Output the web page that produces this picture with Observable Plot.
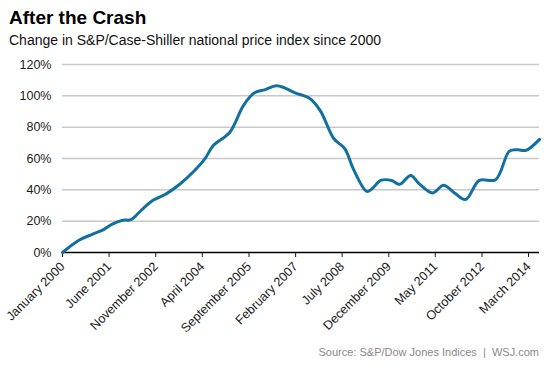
<!DOCTYPE html>
<html>
<head>
<meta charset="utf-8">
<script src="https://cdn.jsdelivr.net/npm/d3@7"></script>
<script src="https://cdn.jsdelivr.net/npm/@observablehq/plot@0.6"></script>
<style>
  html, body { margin: 0; padding: 0; background: #fff; }
  body { width: 553px; height: 369px; position: relative; overflow: hidden; font-family: "Liberation Sans", Arial, sans-serif; }
  #title { position: absolute; left: 9px; top: 7px; font-size: 19px; font-weight: bold; color: #000; }
  #subtitle { position: absolute; left: 9px; top: 32px; font-size: 14px; color: #111; }
  #chart { position: absolute; left: 0; top: 55px; }
  #source { position: absolute; right: 14px; top: 346px; font-size: 11px; color: #8a8a8a; white-space: pre; }
  #chart svg g[aria-label="x-axis tick label"] text { font-size: 12.6px; }
</style>
</head>
<body>
<div id="title">After the Crash</div>
<div id="subtitle">Change in S&amp;P/Case-Shiller national price index since 2000</div>
<div id="chart"></div>
<div id="source">Source: S&amp;P/Dow Jones Indices  |  WSJ.com</div>
<script>
// Reading dates (year-month) and % change since January 2000
const months = ["2000-01","2000-07","2000-12","2001-04","2001-07","2001-11","2002-02","2002-06","2002-10","2003-03",
  "2003-08","2004-01","2004-05","2004-08","2005-02","2005-07","2005-11","2006-03","2006-07","2006-10",
  "2007-02","2007-07","2007-11","2008-04","2008-08","2008-11","2009-04","2009-06","2009-09","2010-01",
  "2010-04","2010-08","2010-11","2011-04","2011-08","2011-12","2012-04","2012-09","2013-03","2013-08",
  "2013-11","2014-02","2014-07"];
const values = [0, 7.8, 11.7, 14.6, 18, 20.6, 21, 27.4, 33.3, 37.6,
  43.9, 52, 59.9, 68.3, 76.8, 93.8, 101.9, 104, 106.5, 105.1,
  101.7, 98.6, 90.6, 72.6, 66.2, 53.5, 39, 40.8, 46, 46,
  43.5, 49.2, 44, 38, 42.9, 38, 33.8, 46, 46.5, 64.7,
  65.6, 65.2, 72.2];

const tickMonths = ["2000-01","2001-06","2002-11","2004-04","2005-09","2007-02","2008-07","2009-12","2011-05","2012-10","2014-03"];
const tickLabels = ["January 2000","June 2001","November 2002","April 2004","September 2005","February 2007","July 2008","December 2009","May 2011","October 2012","March 2014"];
const yTicks = [0, 20, 40, 60, 80, 100, 120];

const parse = d3.utcParse("%Y-%m");
const data = months.map((m, i) => ({date: parse(m), value: values[i]}));
const tickDates = tickMonths.map(parse);
const labelOf = new Map(tickDates.map((d, i) => [+d, tickLabels[i]]));

const chart = Plot.plot({
  width: 553,
  height: 285,
  marginLeft: 62,
  marginRight: 14,
  marginTop: 9,
  marginBottom: 88,
  style: {fontFamily: "'Liberation Sans', Arial, sans-serif", fontSize: "12.5px", color: "#1a1a1a", background: "#fff"},
  x: {
    type: "utc",
    domain: [parse("2000-01"), parse("2014-07")],
    ticks: tickDates,
    tickFormat: d => labelOf.get(+d),
    tickRotate: -45,
    tickSize: 5,
    tickPadding: 7,
    label: null
  },
  y: {
    domain: [0, 120],
    ticks: yTicks,
    tickFormat: d => d + "%",
    tickSize: 0,
    tickPadding: 11,
    label: null
  },
  marks: [
    Plot.ruleY(yTicks.filter(t => t > 0), {stroke: "#c8c8c8", strokeWidth: 1.5}),
    Plot.ruleY([0], {stroke: "#000", strokeWidth: 1.5}),
    Plot.line(data, {x: "date", y: "value", stroke: "#12709f", strokeWidth: 3, curve: "catmull-rom"})
  ]
});
document.getElementById("chart").appendChild(chart);
</script>
</body>
</html>
